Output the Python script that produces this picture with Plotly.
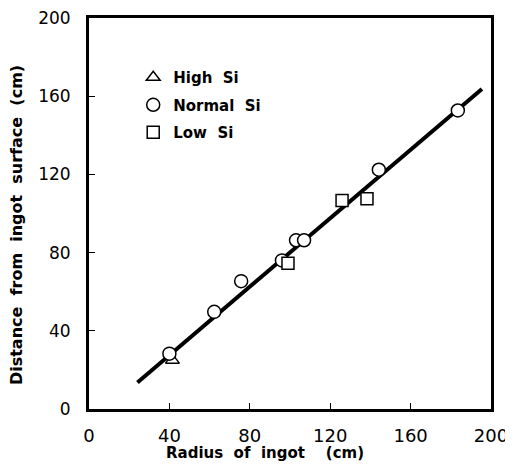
import plotly.graph_objects as go

# Data
high_x = [41.5]
high_y = [25.0]
normal_x = [40.0, 62.3, 75.7, 96.0, 103.0, 107.0, 144.2, 183.5]
normal_y = [28.3, 49.7, 65.4, 76.0, 86.3, 86.3, 122.4, 152.7]
low_x = [99.0, 125.9, 138.3]
low_y = [74.6, 106.6, 107.6]
fit_x = [24.1, 195.5]
fit_y = [13.6, 163.7]
tick_vals = [0, 40, 80, 120, 160, 200]
tick_text = ["0", "40", "80", "120", "160", "200"]

FONT = "DejaVu Sans"

fig = go.Figure()
fig.add_trace(go.Scatter(x=fit_x, y=fit_y, mode="lines",
                         line=dict(color="black", width=4), showlegend=False))
mk = dict(color="white", size=13, line=dict(color="black", width=1.5))
fig.add_trace(go.Scatter(x=high_x, y=high_y, mode="markers", name="<b>High  Si</b>",
                         legendgroup="a",
                         marker=dict(mk, symbol="triangle-up", size=12)))
fig.add_trace(go.Scatter(x=normal_x, y=normal_y, mode="markers", name="<b>Normal  Si</b>",
                         legendgroup="b",
                         marker=dict(mk, symbol="circle")))
fig.add_trace(go.Scatter(x=low_x, y=low_y, mode="markers", name="<b>Low  Si</b>",
                         legendgroup="c",
                         marker=dict(mk, symbol="square", size=12)))

axis_common = dict(range=[0, 200], tickvals=tick_vals, ticktext=tick_text,
                   ticks="inside", ticklen=6, tickwidth=1, tickcolor="black",
                   showgrid=False, zeroline=False, showline=True, linecolor="black",
                   linewidth=3, mirror=True, automargin=False,
                   ticklabeloverflow="allow",
                   tickfont=dict(family=FONT, size=18, color="black"))

fig.update_xaxes(**axis_common, ticklabelstandoff=8)
fig.update_yaxes(**axis_common, ticklabelstandoff=12)
fig.update_yaxes(tickfont=dict(family=FONT, size=17, color="black"))

fig.add_annotation(text="<b>Radius  of  ingot    (cm)</b>", xref="paper", yref="paper",
                   x=0.438, y=-0.112, xanchor="center", yanchor="middle", showarrow=False,
                   font=dict(family=FONT, size=15, color="black"))
fig.add_annotation(text="<b>Distance  from  ingot  surface  (cm)</b>", xref="paper", yref="paper",
                   x=-0.182, y=0.47, xanchor="center", yanchor="middle", showarrow=False,
                   textangle=-90,
                   font=dict(family=FONT, size=16, color="black"))

# the page body has an 8px margin, so the figure is sized to fit the window
fig.update_layout(
    width=505, height=465,
    margin=dict(l=81, r=22, t=10, b=64),
    plot_bgcolor="white", paper_bgcolor="white",
    legend=dict(x=0.11, y=0.89, xanchor="left", yanchor="top",
                bgcolor="rgba(0,0,0,0)", tracegroupgap=5,
                font=dict(family=FONT, size=15, color="black")),
)

fig.write_html("out.html")
